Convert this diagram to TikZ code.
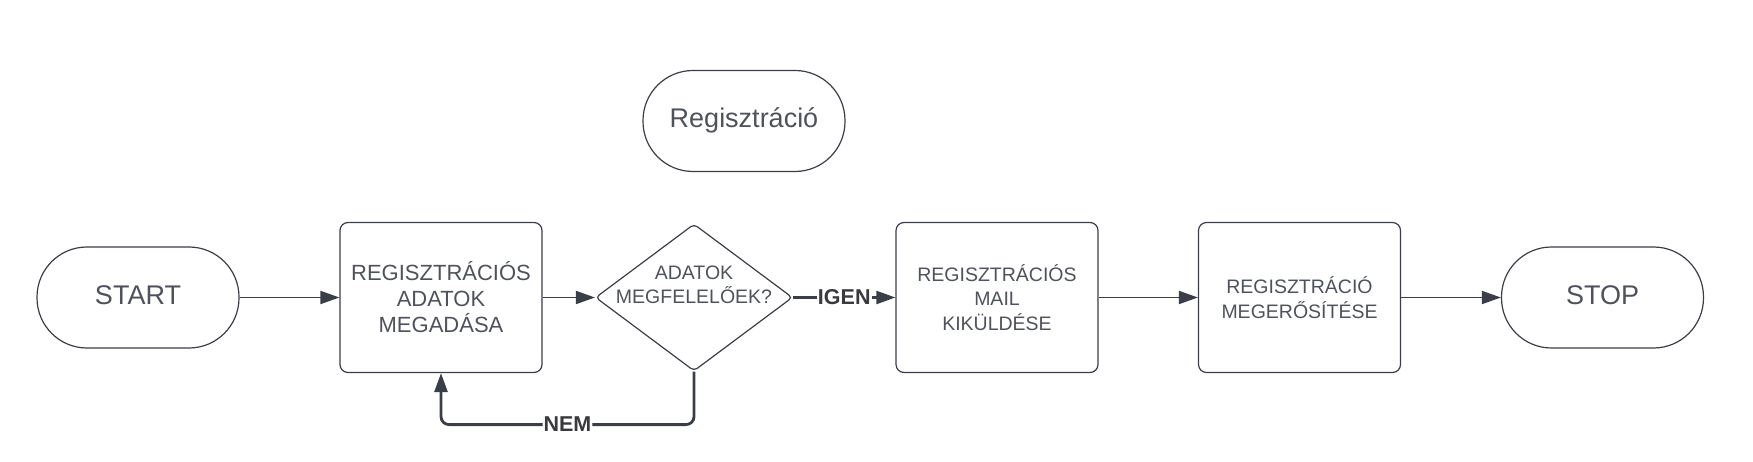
\documentclass[tikz,border=0pt]{standalone}
\usepackage{fontspec}
\setmainfont{Liberation Sans}
\usetikzlibrary{shapes.geometric,arrows.meta}
\definecolor{linec}{RGB}{58,62,72}
\definecolor{textc}{RGB}{78,82,92}
\definecolor{labc}{RGB}{58,58,62}
\tikzset{
  term/.style={draw=linec, line width=1.2pt, rectangle, rounded corners=50pt,
    minimum width=202pt, minimum height=101pt, inner sep=0pt, text=textc,
    text height=19.5pt, text depth=6pt,
    font=\fontsize{27}{32}\selectfont},
  proc/.style={draw=linec, line width=1.2pt, rectangle, rounded corners=8pt,
    minimum width=202pt, minimum height=150pt, inner sep=0pt, align=center,
    text=textc, font=\fontsize{19.5}{24.5}\selectfont},
  dec/.style={draw=linec, line width=1.2pt, diamond, rounded corners=4pt,
    minimum width=197pt, minimum height=147pt, inner sep=0pt},
  dectext/.style={align=center, text=textc, inner sep=0pt,
    font=\fontsize{19.5}{24}\selectfont},
  conn/.style={draw=linec, line width=1.8pt, -{Triangle[length=19pt,width=13pt]}},
  lab/.style={fill=white, text=labc, inner sep=1pt,
    font=\bfseries\fontsize{21.5}{24}\selectfont},
}
\begin{document}
\begin{tikzpicture}[x=1pt,y=-1pt]
\useasboundingbox (0,0) rectangle (1753,462);
\node[term] (title) at (744,121) {Regisztráció};
\node[term] (start) at (138,297.5) {START};
\node[proc, font=\fontsize{22}{26}\selectfont] (b1) at (441,297.5) {REGISZTRÁCIÓS\\ADATOK\\MEGADÁSA};
\node[dec] (d) at (694,297.5) {};
\node[dectext] (dt) at (694,285) {ADATOK\\MEGFELELŐEK?};
\node[proc] (b2) at (997,297.5) {REGISZTRÁCIÓS\\MAIL\\KIKÜLDÉSE};
\node[proc] (b3) at (1299.5,297.5) {REGISZTRÁCIÓ\\MEGERŐSÍTÉSE};
\node[term] (stop) at (1602.5,297.5) {STOP};
\draw[conn] (start.east) -- (b1.west);
\draw[conn] (b1.east) -- (d.west);
\draw[conn, line width=2.2pt] (d.east) -- node[lab]{IGEN} (b2.west);
\draw[conn] (b2.east) -- (b3.west);
\draw[conn] (b3.east) -- (stop.west);
\draw[conn, line width=2.8pt, rounded corners=8pt] (d.south) -- ++(0,53) -| node[lab, pos=0.25]{NEM} (b1.south);
\end{tikzpicture}
\end{document}
